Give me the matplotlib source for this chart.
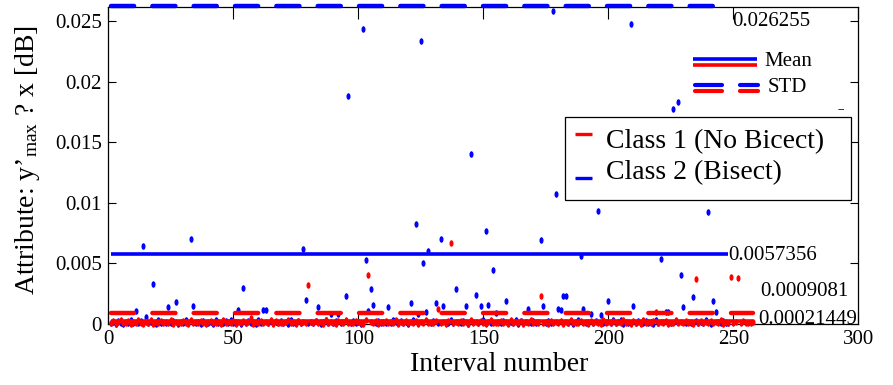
import numpy as np
import matplotlib
matplotlib.use("Agg")
import matplotlib.pyplot as plt
from matplotlib.path import Path
from matplotlib.transforms import Affine2D
from matplotlib.lines import Line2D
from matplotlib.patches import Rectangle

plt.rcParams['font.family'] = ['Liberation Serif', 'DejaVu Serif']
plt.rcParams['mathtext.fontset'] = 'custom'
plt.rcParams['mathtext.rm'] = 'Liberation Serif'
plt.rcParams['mathtext.it'] = 'Liberation Serif:italic'

# Attribute values per interval, in units of 1e-4 dB
class2_y_e4 = [
    0.3, 1.2, 0.1, 2.5, 0.6, 0.2, 1.8, 0.4, 3.0, 0.5,
    10.6, 0.8, 2.2, 64.3, 6.0, 0.3, 1.5, 33.1, 0.2, 2.8,
    0.7, 1.1, 0.3, 13.6, 0.9, 2.4, 18.0, 0.2, 1.6, 0.5,
    3.2, 0.4, 69.8, 14.7, 0.6, 1.9, 0.2, 2.6, 0.8, 0.3,
    1.4, 0.1, 2.9, 0.5, 1.0, 0.3, 2.1, 0.7, 3.4, 0.4,
    1.3, 11.0, 0.2, 29.6, 0.9, 2.3, 0.5, 1.7, 0.1, 3.1,
    0.6, 11.7, 11.7, 0.4, 2.0, 0.8, 1.2, 0.3, 2.7, 0.5,
    1.6, 0.2, 3.3, 0.9, 0.4, 2.2, 1.0, 62.1, 19.4, 0.3,
    1.8, 0.6, 2.5, 13.6, 0.2, 1.4, 3.0, 0.7, 7.8, 0.4,
    2.1, 7.8, 0.5, 1.1, 22.7, 188.5, 0.3, 2.6, 0.8, 1.5,
    0.2, 243.6, 52.7, 10.8, 28.5, 15.8, 0.6, 2.4, 0.4, 1.9,
    0.9, 13.6, 0.3, 3.2, 1.2, 0.5, 2.0, 0.7, 1.3, 0.2,
    17.0, 2.8, 82.7, 7.8, 233.5, 50.2, 10.0, 60.0, 0.6, 2.3,
    17.0, 0.4, 69.8, 14.7, 1.1, 0.8, 2.9, 0.3, 28.5, 1.6,
    0.5, 2.5, 14.7, 0.2, 140.0, 1.4, 23.8, 0.7, 14.7, 3.1,
    77.0, 15.8, 0.4, 44.5, 9.0, 1.7, 0.3, 2.6, 19.0, 0.8,
    1.2, 0.5, 3.0, 0.2, 2.1, 0.9, 1.5, 12.5, 0.4, 2.7,
    0.6, 1.9, 69.0, 14.7, 0.3, 2.2, 1.0, 258.8, 107.0, 12.5,
    11.0, 22.7, 22.7, 0.7, 2.4, 0.2, 1.3, 3.3, 56.0, 12.5,
    0.5, 1.8, 8.0, 0.3, 2.0, 93.0, 7.0, 0.9, 1.4, 19.0,
    0.4, 2.9, 0.6, 1.1, 3.2, 0.2, 1.7, 0.8, 247.5, 14.7,
    0.3, 2.5, 1.0, 0.5, 2.2, 0.7, 1.6, 0.2, 3.0, 0.9,
    53.3, 1.2, 10.0, 10.0, 0.4, 177.2, 2.6, 183.0, 40.0, 13.6,
    0.6, 1.9, 0.3, 22.0, 2.4, 0.8, 1.3, 0.5, 2.8, 92.0,
    0.2, 19.0, 10.0, 1.5, 0.4, 2.1, 0.7, 0.3,
]

class1_y_e4 = [
    0.5, 2.0, 0.1, 1.2, 3.1, 0.3, 0.8, 2.4, 0.2, 1.6,
    0.4, 2.8, 0.9, 0.1, 1.9, 0.6, 3.4, 0.2, 1.1, 0.7,
    2.2, 0.3, 1.4, 0.5, 2.9, 0.1, 1.8, 0.8, 0.4, 2.5,
    1.0, 0.2, 3.0, 0.6, 1.5, 0.3, 2.1, 0.9, 0.1, 1.3,
    2.6, 0.4, 0.7, 1.9, 0.2, 3.3, 0.5, 1.2, 0.8, 2.3,
    0.1, 1.7, 0.6, 2.7, 0.3, 1.1, 4.5, 0.2, 1.6, 0.9,
    2.0, 0.4, 1.3, 0.7, 3.1, 0.1, 2.4, 0.5, 1.0, 0.3,
    1.8, 2.9, 0.6, 1.4, 0.2, 2.2, 0.8, 1.1, 0.4, 32.0,
    1.5, 0.3, 2.6, 0.7, 1.9, 0.1, 3.2, 0.5, 1.2, 0.9,
    0.2, 2.1, 1.6, 0.4, 2.8, 0.6, 1.0, 0.3, 2.4, 1.3,
    0.8, 0.1, 3.5, 40.0, 1.7, 0.5, 2.0, 0.2, 1.4, 0.7,
    2.7, 0.4, 1.1, 0.9, 3.0, 0.2, 1.8, 0.6, 2.3, 0.3,
    1.2, 0.8, 2.5, 0.1, 1.6, 0.5, 3.3, 0.7, 1.0, 0.4,
    2.2, 12.5, 0.9, 1.5, 0.2, 2.6, 66.5, 0.6, 1.9, 0.3,
    2.0, 0.8, 1.3, 0.1, 3.1, 0.5, 1.7, 0.4, 2.4, 0.9,
    0.2, 1.4, 2.8, 0.6, 1.0, 0.3, 2.1, 0.7, 1.5, 0.1,
    3.4, 0.5, 1.2, 0.8, 2.5, 0.2, 1.8, 0.4, 2.9, 0.6,
    1.1, 0.3, 23.0, 0.9, 1.6, 0.1, 2.3, 0.5, 1.3, 0.7,
    2.7, 0.2, 1.9, 0.4, 3.0, 0.8, 1.0, 0.3, 2.2, 0.6,
    1.4, 0.1, 2.6, 0.5, 1.7, 0.9, 0.2, 3.2, 0.7, 1.2,
    0.4, 2.0, 0.8, 1.5, 0.3, 2.8, 0.6, 1.1, 0.2, 2.4,
    0.9, 1.6, 0.1, 3.1, 0.5, 1.3, 0.7, 2.1, 10.0, 0.4,
    1.8, 0.6, 2.5, 0.2, 1.0, 0.8, 3.3, 0.3, 1.4, 0.9,
    2.2, 0.5, 1.7, 0.1, 36.8, 0.7, 2.6, 0.4, 1.2, 0.8,
    2.0, 0.3, 1.5, 0.6, 2.9, 0.2, 1.1, 0.9, 39.0, 0.5,
    1.6, 38.0, 0.3, 2.3, 0.7, 1.0, 0.4, 1.8,
]

other_x = [44, 46]
other_y = [0.00005, 0.0]

class1_mean = 0.00021449
class1_std = 0.0009081
class2_mean = 0.0057356
class2_std = 0.026255

x_ticks = [0, 50, 100, 150, 200, 250, 300]
y_ticks = [0, 0.005, 0.01, 0.015, 0.02, 0.025]
y_ticklabels = ["0", "0.005", "0.01", "0.015", "0.02", "0.025"]

class2_y = np.array(class2_y_e4) * 1e-4
class1_y = np.array(class1_y_e4) * 1e-4
class2_x = np.arange(1, len(class2_y) + 1)
class1_x = np.arange(1, len(class1_y) + 1)

BLUE = (0, 0, 1)
RED = (1, 0, 0)

W, H = 893, 385
fig = plt.figure(figsize=(W / 100, H / 100), dpi=100)
L, R, T, B = 108.3, 858.3, 6.7, 323.8
ax = fig.add_axes([L / W, 1 - B / H, (R - L) / W, (B - T) / H])

# tall dot marker
dot = Path.unit_circle().transformed(Affine2D().scale(0.62, 1.0))

ax.plot(class2_x, class2_y, linestyle='none', marker=dot, ms=4.7,
        color=BLUE, mec='none', clip_on=False, zorder=3)
ax.plot(class1_x, class1_y, linestyle='none', marker=dot, ms=4.7,
        color=RED, mec='none', clip_on=False, zorder=3)
ax.plot(other_x, other_y, linestyle='none', marker=dot, ms=3.5,
        color=(0, 0.8, 0), mec='none', clip_on=False, zorder=2)

# mean (solid) and std (dashed) lines for each class
ax.plot([1, len(class2_y)], [class2_mean, class2_mean], color=BLUE, lw=2.6,
        solid_capstyle='butt', zorder=4)
ax.plot([1, len(class1_y)], [class1_mean, class1_mean], color=RED, lw=2.6,
        solid_capstyle='butt', zorder=4)
ax.plot([1, len(class2_y)], [class2_std, class2_std], color=BLUE, lw=3.2,
        dashes=(5.2, 4.1), dash_capstyle='round', clip_on=False, zorder=4)
ax.plot([1, len(class1_y)], [class1_std, class1_std], color=RED, lw=3.2,
        dashes=(5.2, 4.1), dash_capstyle='round', zorder=4)

ax.set_xlim(0, 300)
ax.set_ylim(0, 0.02621)
ax.set_xticks(x_ticks)
ax.set_xticklabels([str(v) for v in x_ticks])
ax.set_yticks(y_ticks)
ax.set_yticklabels(y_ticklabels)
ax.tick_params(axis='both', direction='in', labelsize=15, width=0.8,
               top=True, right=True, colors='black')
ax.tick_params(axis='x', length=8.6, pad=4.5)
ax.tick_params(axis='y', length=5.8, pad=4.5)
for s in ax.spines.values():
    s.set_linewidth(0.9)

ax.set_xlabel("Interval number", fontsize=20)
ax.xaxis.set_label_coords((499 - L) / (R - L), (B - 352) / (B - T))
ax.set_ylabel("Attribute: y\u2019${}_{\\mathrm{max}}$ ? x [dB]", fontsize=20)
ax.yaxis.set_label_coords((42 - L) / (R - L), (B - 160) / (B - T))

# value annotations
def px_to_data(px, py):
    return ((px - L) / (R - L) * 300, (B - py) / (B - T) * 0.02621)

for txt, (px, py) in [("0.026255", (732, 22)),
                      ("0.0057356", (728, 256)),
                      ("0.0009081", (760, 291)),
                      ("0.00021449", (758, 319))]:
    xd, yd = px_to_data(px, py)
    ax.text(xd, yd, txt, fontsize=15, ha='left', va='center', zorder=6,
            clip_on=False)

xd, yd = px_to_data(838, 110)
ax.text(xd, yd, "--", fontsize=8, ha='left', va='center', zorder=6)

# Mean / STD key
def fx(px):
    return (px - L) / (R - L)

def fy(py):
    return (B - py) / (B - T)

tr = ax.transAxes
for py, c in [(59, BLUE), (65, RED)]:
    ax.add_line(Line2D([fx(693), fx(757)], [fy(py), fy(py)], transform=tr,
                       color=c, lw=2.6, solid_capstyle='butt', zorder=7))
for py, c in [(85, BLUE), (91, RED)]:
    for x0, x1 in [(695, 722), (740, 758)]:
        ax.add_line(Line2D([fx(x0), fx(x1)], [fy(py), fy(py)], transform=tr,
                           color=c, lw=3.0, solid_capstyle='round', zorder=7))
ax.text(fx(764), fy(61), "Mean", transform=tr, fontsize=15, ha='left',
        va='center', zorder=7)
ax.text(fx(768), fy(87), "STD", transform=tr, fontsize=15, ha='left',
        va='center', zorder=7)

# class key
box = Rectangle((fx(565), fy(200)), fx(851) - fx(565), fy(117) - fy(200),
                transform=tr, facecolor='white', edgecolor='black', lw=0.9,
                zorder=8)
ax.add_patch(box)
ax.add_line(Line2D([fx(575), fx(592)], [fy(134), fy(134)], transform=tr,
                   color=RED, lw=2.4, solid_capstyle='butt', zorder=9))
ax.add_line(Line2D([fx(575), fx(592)], [fy(178), fy(178)], transform=tr,
                   color=BLUE, lw=2.4, solid_capstyle='butt', zorder=9))
ax.text(fx(606), fy(142), "Class 1 (No Bicect)", transform=tr, fontsize=20,
        ha='left', va='center', zorder=9)
ax.text(fx(606), fy(173), "Class 2 (Bisect)", transform=tr, fontsize=20,
        ha='left', va='center', zorder=9)

fig.savefig("out.png", dpi=100)
